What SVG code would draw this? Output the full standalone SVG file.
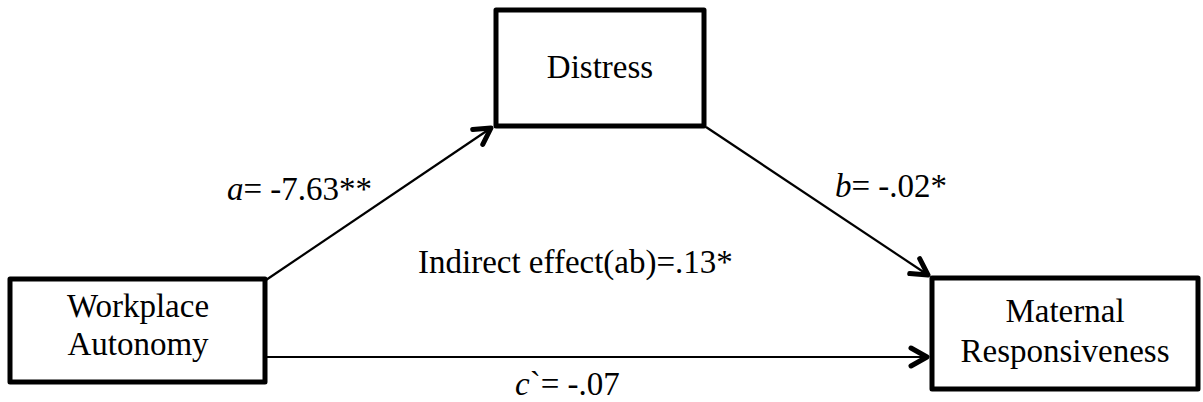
<svg xmlns="http://www.w3.org/2000/svg" width="1203" height="402" viewBox="0 0 1203 402">
<style>
.box{fill:#fff;stroke:#000;stroke-width:5;stroke-linejoin:round}
text{font-family:'Liberation Serif','Times New Roman',serif;font-size:33px;fill:#000}
.c{text-anchor:middle}
.ln{stroke:#000;stroke-width:2.2;fill:none}
.ah{stroke:#000;stroke-width:5;fill:none;stroke-linecap:round;stroke-linejoin:round}
</style>
<defs>
<marker id="arr" markerUnits="userSpaceOnUse" markerWidth="30" markerHeight="30" refX="20" refY="12" orient="auto" viewBox="0 0 30 24">
<path d="M4 3 L20 12 L4 21" class="ah"/>
</marker>
</defs>
<rect width="1203" height="402" fill="#fff"/>
<g id="connectors">
<line class="ln" x1="266" y1="280" x2="491" y2="128" marker-end="url(#arr)"/>
<line class="ln" x1="706" y1="127" x2="928" y2="275" marker-end="url(#arr)"/>
<line class="ln" x1="267" y1="357" x2="927" y2="357" marker-end="url(#arr)"/>
</g>
<g id="distress">
<rect class="box" x="496" y="10" width="208" height="116"/>
<text class="c" x="600" y="78">Distress</text>
</g>
<g id="workplace">
<rect class="box" x="10" y="279" width="255" height="103"/>
<text class="c" x="138" y="317">Workplace</text>
<text class="c" x="138" y="355">Autonomy</text>
</g>
<g id="maternal">
<rect class="box" x="932" y="278" width="266" height="111"/>
<text class="c" x="1065" y="322">Maternal</text>
<text class="c" x="1065" y="362">Responsiveness</text>
</g>
<g id="labels">
<text x="227" y="200"><tspan font-style="italic">a</tspan>= -7.63**</text>
<text x="835" y="197"><tspan font-style="italic">b</tspan>= -.02*</text>
<text x="418" y="273">Indirect effect(ab)=.13*</text>
<text x="515" y="395"><tspan font-style="italic">c</tspan>`= -.07</text>
</g>
</svg>
